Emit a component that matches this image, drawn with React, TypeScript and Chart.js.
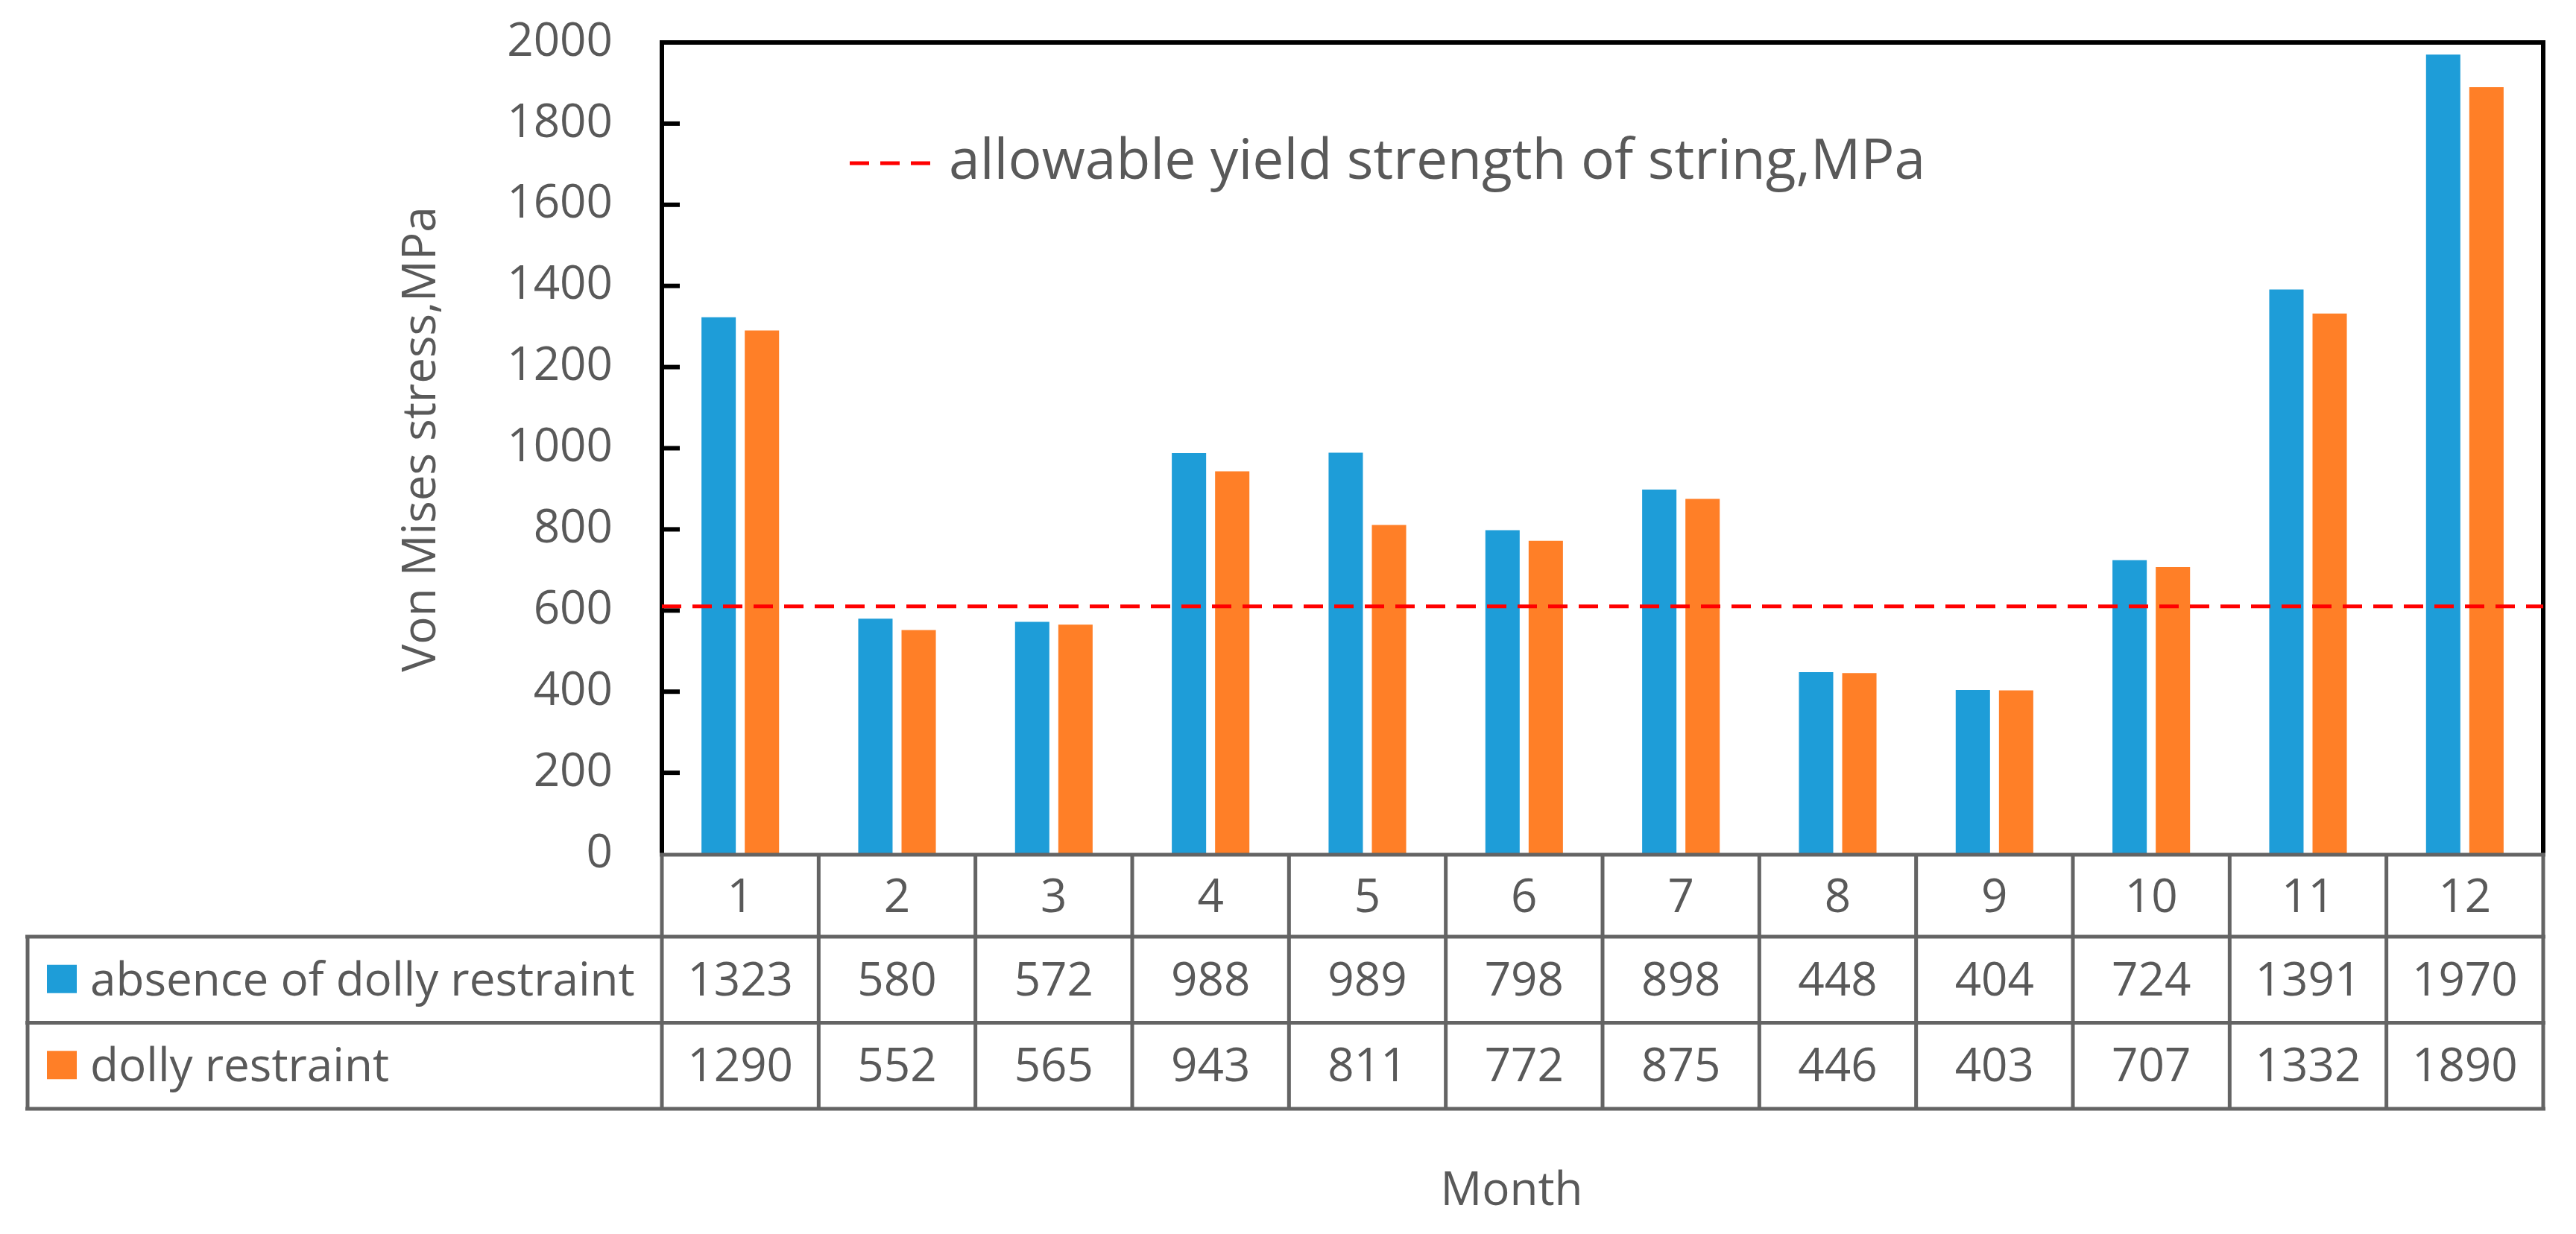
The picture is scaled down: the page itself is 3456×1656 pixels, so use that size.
import React, { useEffect, useRef } from "react";
import { Chart, registerables } from "chart.js";

Chart.register(...registerables);

// ---- data ----
const months = ["1", "2", "3", "4", "5", "6", "7", "8", "9", "10", "11", "12"];
const absenceLabel = "absence of dolly restraint";
const dollyLabel = "dolly restraint";
const absenceValues = [1323, 580, 572, 988, 989, 798, 898, 448, 404, 724, 1391, 1970];
const dollyValues = [1290, 552, 565, 943, 811, 772, 875, 446, 403, 707, 1332, 1890];
const yieldLabel = "allowable yield strength of string,MPa";
const yieldStrength = [610];
const yMin = 0;
const yMax = 2000;
const yStep = 200;
const yTitle = "Von Mises stress,MPa";
const xTitle = "Month";

// ---- styles ----
const FONT = '"Open Sans", sans-serif';
const TEXT = "#595959";
const GRID = "#646464";
const BLUE = "#1E9DD8";
const ORANGE = "#FF7F27";
const RED = "#FF0000";

const tablePlugin = {
  id: "excelTable",
  afterDraw(chart: any) {
    const { ctx, chartArea, scales } = chart;
    const { left, right, top, bottom } = chartArea;
    const y = scales.y;
    const x = scales.x;
    ctx.save();

    // inward tick marks
    ctx.fillStyle = "#000";
    for (let v = yMin + yStep; v < yMax; v += yStep) {
      const py = y.getPixelForValue(v);
      ctx.fillRect(left, py - 3, 24, 6);
    }

    // top & right frame
    ctx.strokeStyle = "#000";
    ctx.lineWidth = 6;
    ctx.beginPath();
    ctx.moveTo(left - 3, top);
    ctx.lineTo(right, top);
    ctx.lineTo(right, bottom);
    ctx.stroke();

    // yield strength line
    const yy = y.getPixelForValue(yieldStrength[0]);
    ctx.strokeStyle = RED;
    ctx.lineWidth = 5;
    ctx.setLineDash([26, 15]);
    ctx.beginPath();
    ctx.moveTo(left, yy);
    ctx.lineTo(right, yy);
    ctx.stroke();

    // legend for yield line
    const lgx = left + 252;
    const lgy = top + 162;
    ctx.beginPath();
    ctx.moveTo(lgx, lgy);
    ctx.lineTo(lgx + 112, lgy);
    ctx.stroke();
    ctx.setLineDash([]);
    ctx.fillStyle = TEXT;
    ctx.font = `75px ${FONT}`;
    ctx.textAlign = "left";
    ctx.textBaseline = "alphabetic";
    ctx.fillText(yieldLabel, lgx + 133, lgy + 21);

    // data table
    const n = months.length;
    const cw = (right - left) / n;
    const rows = [bottom + 1, bottom + 111, bottom + 226.5, bottom + 342];
    const tableLeft = 37;
    ctx.strokeStyle = GRID;
    ctx.lineWidth = 5;
    ctx.beginPath();
    ctx.moveTo(left - 3, rows[0]);
    ctx.lineTo(right + 3, rows[0]);
    for (let r = 1; r < rows.length; r++) {
      ctx.moveTo(tableLeft - 3, rows[r]);
      ctx.lineTo(right + 3, rows[r]);
    }
    ctx.stroke();
    ctx.beginPath();
    for (let i = 0; i <= n; i++) {
      const px = i === n ? right : x.getPixelForTick(i) - cw / 2;
      ctx.moveTo(px, rows[0]);
      ctx.lineTo(px, rows[3]);
    }
    ctx.moveTo(tableLeft, rows[1]);
    ctx.lineTo(tableLeft, rows[3]);
    ctx.stroke();

    ctx.fillStyle = TEXT;
    ctx.font = `62px ${FONT}`;
    ctx.textAlign = "center";
    const series = [absenceValues, dollyValues];
    for (let i = 0; i < n; i++) {
      const cx = x.getPixelForTick(i);
      ctx.fillText(months[i], cx, (rows[0] + rows[1]) / 2 + 22);
      for (let s = 0; s < series.length; s++) {
        ctx.fillText(String(series[s][i]), cx, (rows[s + 1] + rows[s + 2]) / 2 + 21);
      }
    }
    const labels = [absenceLabel, dollyLabel];
    const colors = [BLUE, ORANGE];
    ctx.textAlign = "left";
    for (let s = 0; s < labels.length; s++) {
      const cy = (rows[s + 1] + rows[s + 2]) / 2;
      ctx.fillStyle = colors[s];
      ctx.fillRect(63, cy - 20, 40, 38);
      ctx.fillStyle = TEXT;
      ctx.fillText(labels[s], 121, cy + 21);
    }

    // axis titles
    ctx.textAlign = "center";
    ctx.fillText(xTitle, 2028, 1617);
    ctx.save();
    ctx.translate(584, (top + bottom) / 2 - 12);
    ctx.rotate(-Math.PI / 2);
    ctx.fillText(yTitle, 0, 0);
    ctx.restore();

    ctx.restore();
  },
};

export default function App() {
  const ref = useRef<HTMLCanvasElement | null>(null);
  useEffect(() => {
    if (!ref.current) return;
    const chart = new Chart(ref.current, {
      type: "bar",
      data: {
        labels: months,
        datasets: [
          {
            label: absenceLabel,
            data: absenceValues,
            backgroundColor: BLUE,
            categoryPercentage: 0.552,
            barPercentage: 0.793,
          },
          {
            label: dollyLabel,
            data: dollyValues,
            backgroundColor: ORANGE,
            categoryPercentage: 0.552,
            barPercentage: 0.793,
          },
        ],
      },
      options: {
        animation: false,
        responsive: true,
        maintainAspectRatio: false,
        layout: { padding: { left: 0, top: 57, right: 44, bottom: 510 } },
        plugins: {
          legend: { display: false },
          tooltip: { enabled: false },
        },
        scales: {
          x: { display: false },
          y: {
            min: yMin,
            max: yMax,
            ticks: {
              stepSize: yStep,
              color: TEXT,
              padding: 0,
              font: { family: '"Open Sans", sans-serif', size: 62 },
              callback: (v: any) => String(v),
            },
            grid: {
              display: true,
              drawOnChartArea: false,
              drawTicks: true,
              tickLength: 66,
              tickColor: "rgba(0,0,0,0)",
              color: "rgba(0,0,0,0)",
            },
            border: { display: true, color: "#000", width: 6 },
            afterFit: (s: any) => {
              s.width = 888;
            },
          },
        },
      },
      plugins: [tablePlugin],
    });
    return () => chart.destroy();
  }, []);
  return (
    <div style={{ position: "fixed", left: 0, top: 0, width: "3456px", height: "1656px", background: "#fff" }}>
      <canvas ref={ref} />
    </div>
  );
}
